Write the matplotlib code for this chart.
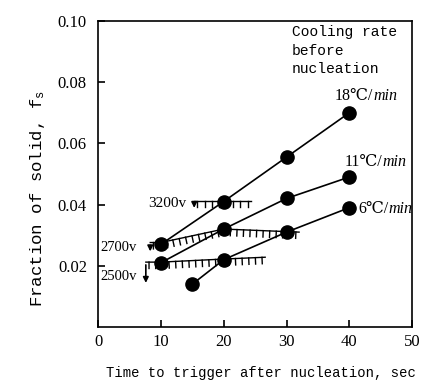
import matplotlib
matplotlib.use("Agg")
import matplotlib.pyplot as plt
from matplotlib import patheffects

SERIF = ['Liberation Serif', 'DejaVu Serif']
MONO = ['Liberation Mono', 'DejaVu Sans Mono']
plt.rcParams['font.family'] = SERIF
plt.rcParams['mathtext.fontset'] = 'custom'
plt.rcParams['mathtext.it'] = 'Liberation Mono:italic'
plt.rcParams['mathtext.rm'] = 'Liberation Mono'

# Data
t18 = [10, 20, 30, 40]
f18 = [0.027, 0.041, 0.0555, 0.070]
t11 = [10, 20, 30, 40]
f11 = [0.021, 0.032, 0.042, 0.049]
t6 = [15, 20, 30, 40]
f6 = [0.014, 0.022, 0.031, 0.039]

# threshold (hatched) lines
th3200_x = [15.3, 24.3]
th3200_y = [0.0412, 0.0412]
th2700_x = [8.3, 10, 20, 32]
th2700_y = [0.0276, 0.0276, 0.0320, 0.0310]
th2500_x = [7.6, 10, 20, 26.6]
th2500_y = [0.0212, 0.0212, 0.0222, 0.0228]

fig = plt.figure(figsize=(4.21, 3.87), dpi=100)
ax = fig.add_axes([0.233, 0.155, 0.746, 0.791])

for t, f in [(t18, f18), (t11, f11), (t6, f6)]:
    ax.plot(t, f, color='black', lw=1.2, marker='o', ms=9.5, zorder=3)

ticked = [patheffects.withTickedStroke(angle=-90, spacing=4.6, length=1.0)]
for xs, ys in [(th3200_x, th3200_y), (th2700_x, th2700_y), (th2500_x, th2500_y)]:
    ax.plot(xs, ys, color='black', lw=1.0, path_effects=ticked, zorder=2)

# arrows
arrow_kw = dict(arrowstyle='-|>', color='black', lw=1.2, mutation_scale=8)
ax.annotate('', xy=(th3200_x[0], 0.0380), xytext=(th3200_x[0], th3200_y[0]), arrowprops=arrow_kw)
ax.annotate('', xy=(th2700_x[0], 0.0238), xytext=(th2700_x[0], th2700_y[0]), arrowprops=arrow_kw)
ax.annotate('', xy=(th2500_x[0], 0.0135), xytext=(th2500_x[0], th2500_y[0]), arrowprops=arrow_kw)

ax.text(14.0, 0.0405, '3200v', ha='right', va='center', fontsize=11, family=SERIF)
ax.text(0.3, 0.0259, '2700v', ha='left', va='center', fontsize=10.5, family=SERIF)
ax.text(0.3, 0.0164, '2500v', ha='left', va='center', fontsize=10.5, family=SERIF)

ax.text(30.8, 0.0985, 'Cooling rate\nbefore\nnucleation', ha='left', va='top',
        fontsize=10.5, linespacing=1.4, family=MONO)

rate_labels = ['18℃/', '11℃/', '6℃/']
rate_pos = [(37.7, 0.0754), (39.3, 0.0538), (41.4, 0.0385)]
for lab, (x, y) in zip(rate_labels, rate_pos):
    t = ax.text(x, y, lab, ha='left', va='center', fontsize=11.5, family=SERIF)
    ax.annotate('min', xy=(1, 0), xycoords=t, ha='left', va='bottom',
                fontsize=11.5, family=SERIF, style='italic')

ax.set_xlim(0, 50)
ax.set_ylim(0, 0.10)
ax.set_xticks([0, 10, 20, 30, 40, 50])
ax.set_yticks([0.02, 0.04, 0.06, 0.08, 0.10])
ax.set_yticklabels(['0.02', '0.04', '0.06', '0.08', '0.10'])
ax.tick_params(direction='in', length=5, width=1.2, labelsize=12)
ax.tick_params(axis='y', pad=8)
ax.tick_params(axis='x', pad=5)
for s in ax.spines.values():
    s.set_linewidth(1.2)

ax.set_xlabel('Time to trigger after nucleation, sec', fontsize=10,
              family=MONO)
ax.set_ylabel('Fraction of solid, f$_\\mathrm{s}$', fontsize=12.5, family=MONO)
ax.yaxis.set_label_coords(-0.162, 0.42)
ax.xaxis.set_label_coords(0.52, -0.128)

fig.savefig('out.png', dpi=100)
